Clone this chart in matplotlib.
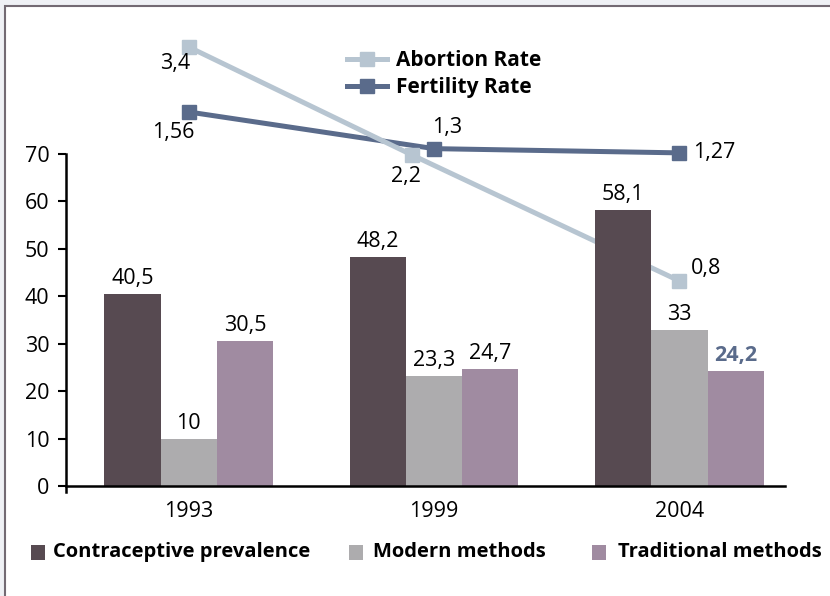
import matplotlib

matplotlib.use("Agg")
import matplotlib.pyplot as plt
import numpy as np
from matplotlib.lines import Line2D
from matplotlib.patches import Rectangle

YEARS = ["1993", "1999", "2004"]
CONTRACEPTIVE = [40.5, 48.2, 58.1]
MODERN = [10, 23.3, 33]
TRADITIONAL = [30.5, 24.7, 24.2]
ABORTION = [3.4, 2.2, 0.8]
FERTILITY = [1.56, 1.3, 1.27]

BAR_LABELS = ["Contraceptive prevalence", "Modern methods", "Traditional methods"]
BAR_COLORS = ["#574a51", "#adacae", "#a08ba1"]
ABORTION_COLOR = "#b7c5d1"
FERTILITY_COLOR = "#5a6b8b"
FRAME_COLOR = "#736a73"

# small dodge of the abortion markers, as in the original
ABORTION_DODGE = [0.0, -0.09, 0.0]

W, H = 830, 596
FONT = "Open Sans"
NUM_SIZE = 15.5
plt.rcParams["font.family"] = [FONT, "DejaVu Sans"]


def fmt(v):
    return f"{v:g}".replace(".", ",")


def fx(px):
    return px / W


def fy(py):
    return (H - py) / H


fig = plt.figure(figsize=(W / 100, H / 100), dpi=100, facecolor="#eff1f5")
fig.patches.append(Rectangle((fx(5), -0.1), 1.2, fy(6) + 0.1, transform=fig.transFigure,
                             facecolor="white", edgecolor=FRAME_COLOR, linewidth=1.5, zorder=-5))

ax = fig.add_axes([fx(66), fy(492.2), fx(785) - fx(66), fy(154) - fy(492.2)])
ax_f = ax.twinx()
ax_a = ax.twinx()

x = np.arange(len(YEARS))
width = 0.229
series = [CONTRACEPTIVE, MODERN, TRADITIONAL]
for i, (vals, color) in enumerate(zip(series, BAR_COLORS)):
    pos = x + (i - 1) * width
    ax.bar(pos, vals, width=width, color=color, zorder=2)
    for j, (p, v) in enumerate(zip(pos, vals)):
        special = (i == 2 and j == 2)
        ax.annotate(fmt(v), (p, v), xytext=(0, 5), textcoords="offset pixels",
                    ha="center", va="bottom", fontsize=NUM_SIZE,
                    color=FERTILITY_COLOR if special else "black",
                    fontweight="bold" if special else "normal")

ax.set_xlim(-0.5, 2.43)
ax.set_ylim(-1.3, 70)
ax.set_yticks(range(0, 71, 10))
ax.set_xticks(x)
ax.set_xticklabels(YEARS)
ax.tick_params(axis="y", labelsize=NUM_SIZE, length=6, width=1.5, pad=6, direction="out")
ax.tick_params(axis="x", labelsize=NUM_SIZE, length=0, pad=11)
ax.get_xticklabels()[2].set_color("#5b4d55")
ax.spines["top"].set_visible(False)
ax.spines["right"].set_visible(False)
ax.spines["bottom"].set_position(("data", 0))
for s in ("left", "bottom"):
    ax.spines[s].set_linewidth(1.8)
ax.patch.set_visible(False)

# hidden rate axes, drawn behind the bars
ax_f.set_ylim(-1.136, 1.262)
ax_a.set_ylim(-1.547, 2.211)
ax_f.axis("off")
ax_a.axis("off")
ax_f.set_zorder(1)
ax_a.set_zorder(2)
ax.set_zorder(3)

xa = x + np.array(ABORTION_DODGE)
ax_a.plot(xa, ABORTION, color=ABORTION_COLOR, lw=3.6, marker="s", ms=10.5, clip_on=False)
ax_f.plot(x, FERTILITY, color=FERTILITY_COLOR, lw=3.6, marker="s", ms=10.5, clip_on=False)

a_off = [(-14, -17), (-6, -22), (27, 12)]
f_off = [(-15, -21), (13, 21), (35, 0)]
for xi, v, off in zip(xa, ABORTION, a_off):
    ax_a.annotate(fmt(v), (xi, v), xytext=off, textcoords="offset pixels",
                  ha="center", va="center", fontsize=NUM_SIZE, annotation_clip=False)
for xi, v, off in zip(x, FERTILITY, f_off):
    ax_f.annotate(fmt(v), (xi, v), xytext=off, textcoords="offset pixels",
                  ha="center", va="center", fontsize=NUM_SIZE, annotation_clip=False)

ax.legend(handles=[Line2D([], [], color=ABORTION_COLOR, lw=3.6, marker="s", ms=10),
                   Line2D([], [], color=FERTILITY_COLOR, lw=3.6, marker="s", ms=10)],
          labels=["Abortion Rate", "Fertility Rate"],
          loc="center left", bbox_to_anchor=(fx(347), fy(74)), bbox_transform=fig.transFigure,
          frameon=False, handlelength=1.9, handletextpad=0.45, borderpad=0, borderaxespad=0,
          labelspacing=0.3, prop={"family": [FONT, "DejaVu Sans"], "weight": "bold", "size": 15})

# bottom legend for the bars
square_x = [31, 349, 592]
text_x = [53, 373, 618]
for label, color, sx, tx in zip(BAR_LABELS, BAR_COLORS, square_x, text_x):
    fig.patches.append(Rectangle((fx(sx), fy(560)), 14 / W, 15 / H, transform=fig.transFigure,
                                 facecolor=color, edgecolor="none"))
    fig.text(fx(tx), fy(552), label, ha="left", va="center", fontsize=14.5, fontweight="bold")

fig.savefig("out.png", dpi=100, facecolor=fig.get_facecolor())
